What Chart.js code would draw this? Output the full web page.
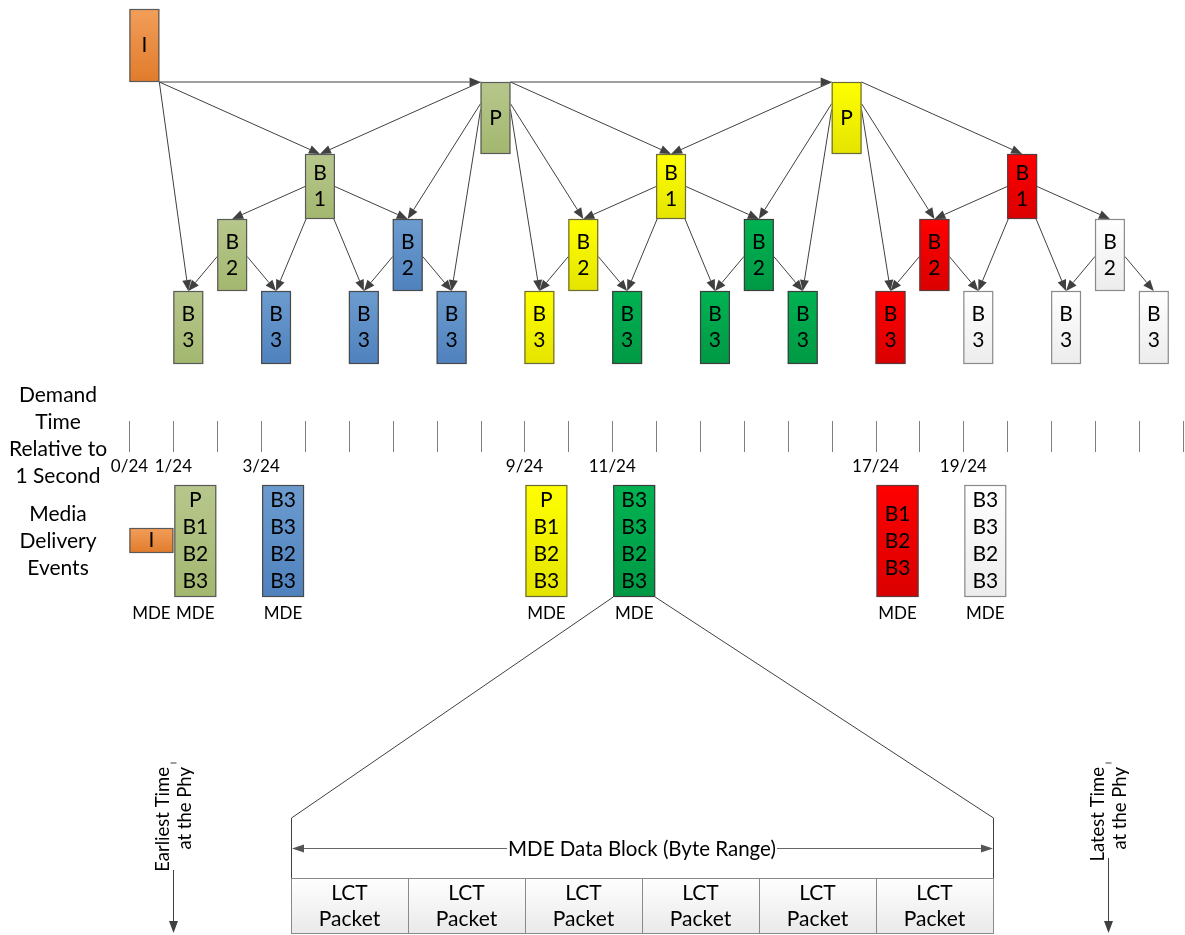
<!DOCTYPE html>
<html>
<head>
<meta charset="utf-8">
<script src="https://cdn.jsdelivr.net/npm/chart.js@4/dist/chart.umd.min.js"></script>
<style>
html,body{margin:0;padding:0;background:#fff;}
#wrap{width:1185px;height:935px;position:relative;}
</style>
</head>
<body>
<div id="wrap"><canvas id="c"></canvas></div>
<script>
// ---------------- DATA ----------------
// GOP frames: time slot (1/24 s), frame type, colour group
const frameTimes  = [0, 8, 16, 4, 12, 20, 2, 6, 10, 14, 18, 22, 1, 3, 5, 7, 9, 11, 13, 15, 17, 19, 21, 23];
const frameTypes  = ['I','P','P','B1','B1','B1','B2','B2','B2','B2','B2','B2','B3','B3','B3','B3','B3','B3','B3','B3','B3','B3','B3','B3'];
const frameGroups = ['orange','olive','yellow','olive','yellow','red','olive','blue','yellow','dgreen','red','white',
                     'olive','blue','blue','blue','yellow','dgreen','dgreen','dgreen','red','white','white','white'];
// prediction references: [reference frame slot, dependent frame slot]
const referenceFrom = [0, 8, 0, 8, 0, 8, 8, 8, 16, 8, 8, 16, 16, 16, 16, 16, 4, 4, 4, 4, 2, 2, 6, 6, 12, 12, 12, 12, 10, 10, 14, 14, 20, 20, 20, 20, 18, 18, 22, 22];
const referenceTo   = [8, 16, 4, 4, 1, 6, 7, 12, 12, 10, 9, 14, 15, 20, 18, 17, 2, 6, 3, 5, 1, 3, 5, 7, 10, 14, 11, 13, 9, 11, 13, 15, 18, 22, 19, 21, 17, 19, 21, 23];
// demand time axis
const tickSlots   = [0,1,2,3,4,5,6,7,8,9,10,11,12,13,14,15,16,17,18,19,20,21,22,23,24];
const labelSlots  = [0, 1, 3, 9, 11, 17, 19];
const labelTexts  = ['0/24','1/24','3/24','9/24','11/24','17/24','19/24'];
// media delivery events
const mdeSlots    = [0, 1, 3, 9, 11, 17, 19];
const mdeContents = [['I'], ['P','B1','B2','B3'], ['B3','B3','B2','B3'], ['P','B1','B2','B3'], ['B3','B3','B2','B3'], ['B1','B2','B3'], ['B3','B3','B2','B3']];
const mdeGroups   = ['orange','olive','blue','yellow','dgreen','red','white'];
const mdeLabel    = 'MDE';
const zoomedMde   = 11;
// data block
const packetLabels = [['LCT','Packet'],['LCT','Packet'],['LCT','Packet'],['LCT','Packet'],['LCT','Packet'],['LCT','Packet']];
const blockTitle   = 'MDE Data Block (Byte Range)';
const leftTitles   = [['Demand','Time','Relative to','1 Second'], ['Media','Delivery','Events']];
const phyLabels    = [['Earliest Time','at the Phy'], ['Latest Time','at the Phy']];

// ---------------- STYLE / LAYOUT ----------------
const FONT = 'Lato, "Open Sans", sans-serif';
const GROUP_COLORS = {
  orange: ['#F29E5A','#E17B2B','#5a5a5a'],
  olive:  ['#B7C78C','#A3B76F','#5a5a5a'],
  blue:   ['#6C9CCF','#4F81BD','#4a4a4a'],
  yellow: ['#FFFF00','#E4E400','#6b6b3a'],
  dgreen: ['#00B352','#009844','#3d3d3d'],
  red:    ['#FF0000','#DA0000','#5a3a3a'],
  white:  ['#FFFFFF','#ECECEC','#8a8a8a']
};
const LEVEL_TOP = {I: 9, P: 82, B1: 154, B2: 219, B3: 291};
const LEVEL_BOT = {I: 82, P: 154, B1: 219, B2: 291, B3: 364};
const BOX_W = 0.68;      // in slot units
const LINE_COL = '#404040';

const points = frameTimes.map((t, i) => ({x: t, y: LEVEL_TOP[frameTypes[i]]}));

const diagram = {
  id: 'gopDiagram',
  afterDraw(chart) {
    const ctx = chart.ctx;
    const xs = chart.scales.x, ys = chart.scales.y;
    const X = v => xs.getPixelForValue(v);
    const Y = v => ys.getPixelForValue(v);
    ctx.save();

    function gradBox(x0, y0, x1, y1, group, lw) {
      const c = GROUP_COLORS[group];
      const g = ctx.createLinearGradient(0, y0, 0, y1);
      g.addColorStop(0, c[0]); g.addColorStop(1, c[1]);
      ctx.fillStyle = g;
      ctx.fillRect(x0, y0, x1 - x0, y1 - y0);
      ctx.strokeStyle = c[2]; ctx.lineWidth = lw || 1.2;
      ctx.strokeRect(x0 + 0.5, y0 + 0.5, x1 - x0 - 1, y1 - y0 - 1);
    }
    function arrow(sx, sy, tx, ty, col, len, hw) {
      len = len || 11; hw = hw || 4.5;
      const a = Math.atan2(ty - sy, tx - sx);
      const bx = tx - Math.cos(a) * len, by = ty - Math.sin(a) * len;
      ctx.strokeStyle = col; ctx.lineWidth = 1;
      ctx.beginPath(); ctx.moveTo(sx, sy); ctx.lineTo(bx, by); ctx.stroke();
      ctx.fillStyle = col;
      ctx.beginPath();
      ctx.moveTo(tx, ty);
      ctx.lineTo(bx + Math.sin(a) * hw, by - Math.cos(a) * hw);
      ctx.lineTo(bx - Math.sin(a) * hw, by + Math.cos(a) * hw);
      ctx.closePath(); ctx.fill();
    }
    function frameBox(slot) {
      const i = frameTimes.indexOf(slot);
      const ty = frameTypes[i];
      return {l: X(slot), r: X(slot + BOX_W), t: Y(LEVEL_TOP[ty]), b: Y(LEVEL_BOT[ty]), type: ty, slot};
    }

    // --- reference arrows
    referenceFrom.forEach((f, k) => {
      const s = frameBox(f), d = frameBox(referenceTo[k]);
      const dcx = (d.l + d.r) / 2;
      const left = d.slot < s.slot;
      let sx, sy, tx = dcx, ty = d.t;
      const h = s.b - s.t;
      if (s.type === 'I') {
        sx = s.r; sy = s.b;
        if (d.type === 'P') { tx = d.l; ty = d.t; }
      } else if (s.type === 'P') {
        if (d.type === 'P') { sx = s.r; sy = s.t; tx = d.l; ty = d.t; }
        else if (d.type === 'B1') { sx = left ? s.l : s.r; sy = s.t; }
        else if (d.type === 'B2') { sx = left ? s.l : s.r; sy = s.t + 0.3 * h; }
        else { sx = left ? s.l : s.r; sy = s.t + 0.38 * h; }
      } else if (s.type === 'B1') {
        if (d.type === 'B2') { sx = left ? s.l : s.r; sy = s.t + 0.5 * h; }
        else { sx = left ? s.l + 1 : s.r - 1; sy = s.b; }
      } else {
        sx = left ? s.l : s.r; sy = s.t + 0.52 * h;
      }
      arrow(sx, sy, tx, ty, LINE_COL, 11, 4.5);
    });

    // --- frame boxes
    ctx.textAlign = 'center'; ctx.textBaseline = 'middle';
    frameTimes.forEach((t, i) => {
      const b = frameBox(t);
      gradBox(b.l, b.t, b.r, b.b, frameGroups[i]);
      ctx.fillStyle = '#000';
      ctx.font = '21px ' + FONT;
      const cx = (b.l + b.r) / 2, cy = (b.t + b.b) / 2;
      const ty = frameTypes[i];
      if (ty.length === 1) ctx.fillText(ty, cx, cy);
      else { ctx.fillText(ty[0], cx, cy - 13); ctx.fillText(ty[1], cx, cy + 13); }
    });

    // --- left titles
    ctx.fillStyle = '#000'; ctx.font = '21px ' + FONT;
    leftTitles[0].forEach((s, i) => ctx.fillText(s, 58, Y(395 + i * 27)));
    leftTitles[1].forEach((s, i) => ctx.fillText(s, 58, Y(514 + i * 27)));

    // --- demand time ticks
    ctx.strokeStyle = '#7f7f7f'; ctx.lineWidth = 1;
    tickSlots.forEach(t => {
      const x = Math.round(X(t)) + 0.5;
      ctx.beginPath(); ctx.moveTo(x, Y(421)); ctx.lineTo(x, Y(452)); ctx.stroke();
    });
    ctx.fillStyle = '#000'; ctx.font = '17px ' + FONT;
    labelSlots.forEach((t, i) => ctx.fillText(labelTexts[i], X(t), Y(467)));

    // --- media delivery events
    mdeSlots.forEach((t, i) => {
      const lines = mdeContents[i];
      let x0 = X(t) + 1, x1 = X(t + 1) - 1, y0, y1;
      if (lines.length === 1) { x0 = X(t); x1 = X(t + 1); y0 = Y(528); y1 = Y(553); }
      else { y0 = Y(485); y1 = Y(597); }
      gradBox(x0, y0, x1, y1, mdeGroups[i]);
      ctx.fillStyle = '#000'; ctx.font = '21px ' + FONT;
      const cy = (y0 + y1) / 2, cx = (x0 + x1) / 2;
      lines.forEach((s, k) => ctx.fillText(s, cx, cy + (k - (lines.length - 1) / 2) * 27));
      ctx.font = '17px ' + FONT;
      ctx.fillText(mdeLabel, cx, Y(614));
    });

    // --- zoom lines to data block
    const bl = 291, br = 993;
    ctx.strokeStyle = '#404040'; ctx.lineWidth = 1;
    ctx.beginPath();
    ctx.moveTo(X(zoomedMde) + 1, Y(597)); ctx.lineTo(bl + 0.5, Y(818));
    ctx.lineTo(bl + 0.5, Y(934));
    ctx.moveTo(X(zoomedMde + 1) - 1, Y(597)); ctx.lineTo(br + 0.5, Y(818));
    ctx.lineTo(br + 0.5, Y(934));
    ctx.stroke();

    // double arrow
    const ay = Math.round(Y(848)) + 0.5;
    ctx.font = '20.5px ' + FONT;
    const tw = ctx.measureText(blockTitle).width;
    const mid = (bl + br) / 2;
    ctx.strokeStyle = '#666'; ctx.fillStyle = '#555'; ctx.lineWidth = 1;
    ctx.beginPath();
    ctx.moveTo(bl + 12, ay); ctx.lineTo(mid - tw / 2 - 1, ay);
    ctx.moveTo(mid + tw / 2 + 1, ay); ctx.lineTo(br - 12, ay);
    ctx.stroke();
    ctx.beginPath(); ctx.moveTo(bl + 1, ay); ctx.lineTo(bl + 13, ay - 4); ctx.lineTo(bl + 13, ay + 4); ctx.closePath(); ctx.fill();
    ctx.beginPath(); ctx.moveTo(br, ay); ctx.lineTo(br - 12, ay - 4); ctx.lineTo(br - 12, ay + 4); ctx.closePath(); ctx.fill();
    ctx.fillStyle = '#000';
    ctx.fillText(blockTitle, mid, ay + 1);

    // packets
    const pw = (br - bl) / packetLabels.length;
    packetLabels.forEach((lab, i) => {
      const x0 = bl + i * pw;
      const g = ctx.createLinearGradient(0, Y(878), 0, Y(934));
      g.addColorStop(0, '#FFFFFF'); g.addColorStop(1, '#E9E9E9');
      ctx.fillStyle = g;
      ctx.fillRect(x0, Y(878), pw, Y(934) - Y(878));
      ctx.strokeStyle = '#8a8a8a'; ctx.lineWidth = 1;
      ctx.strokeRect(Math.round(x0) + 0.5, Math.round(Y(878)) + 0.5, pw, Y(934) - Y(878) - 1);
      ctx.fillStyle = '#000'; ctx.font = '21px ' + FONT;
      ctx.fillText(lab[0], x0 + pw / 2, Y(893));
      ctx.fillText(lab[1], x0 + pw / 2, Y(919));
    });

    // phy time arrows
    [[173, 763, 870], [1108, 763, 858]].forEach((p, i) => {
      const x = p[0] + 0.5;
      ctx.strokeStyle = '#404040'; ctx.fillStyle = '#404040'; ctx.lineWidth = 1;
      ctx.beginPath(); ctx.moveTo(x - 3, Y(p[1])); ctx.lineTo(x + 3, Y(p[1])); ctx.stroke();
      arrow(x, Y(p[2]), x, Y(933), '#404040', 12, 4.5);
      ctx.save();
      ctx.translate(p[0] + 1, Y(767));
      ctx.rotate(-Math.PI / 2);
      ctx.fillStyle = '#000'; ctx.font = '18.5px ' + FONT;
      ctx.textAlign = 'right';
      ctx.fillText(phyLabels[i][0], 0, -11);
      ctx.fillText(phyLabels[i][1], 0, 11);
      ctx.restore();
    });

    ctx.restore();
  }
};

new Chart(document.getElementById('c'), {
  type: 'scatter',
  data: { datasets: [{ data: points, pointRadius: 0, showLine: false }] },
  options: {
    responsive: true,
    maintainAspectRatio: false,
    animation: false,
    layout: { padding: 0 },
    events: [],
    scales: {
      x: { type: 'linear', min: -2.95, max: 24.05, display: false },
      y: { type: 'linear', min: 0, max: 935, reverse: true, display: false }
    },
    plugins: { legend: { display: false }, tooltip: { enabled: false } }
  },
  plugins: [diagram]
});
</script>
</body>
</html>
